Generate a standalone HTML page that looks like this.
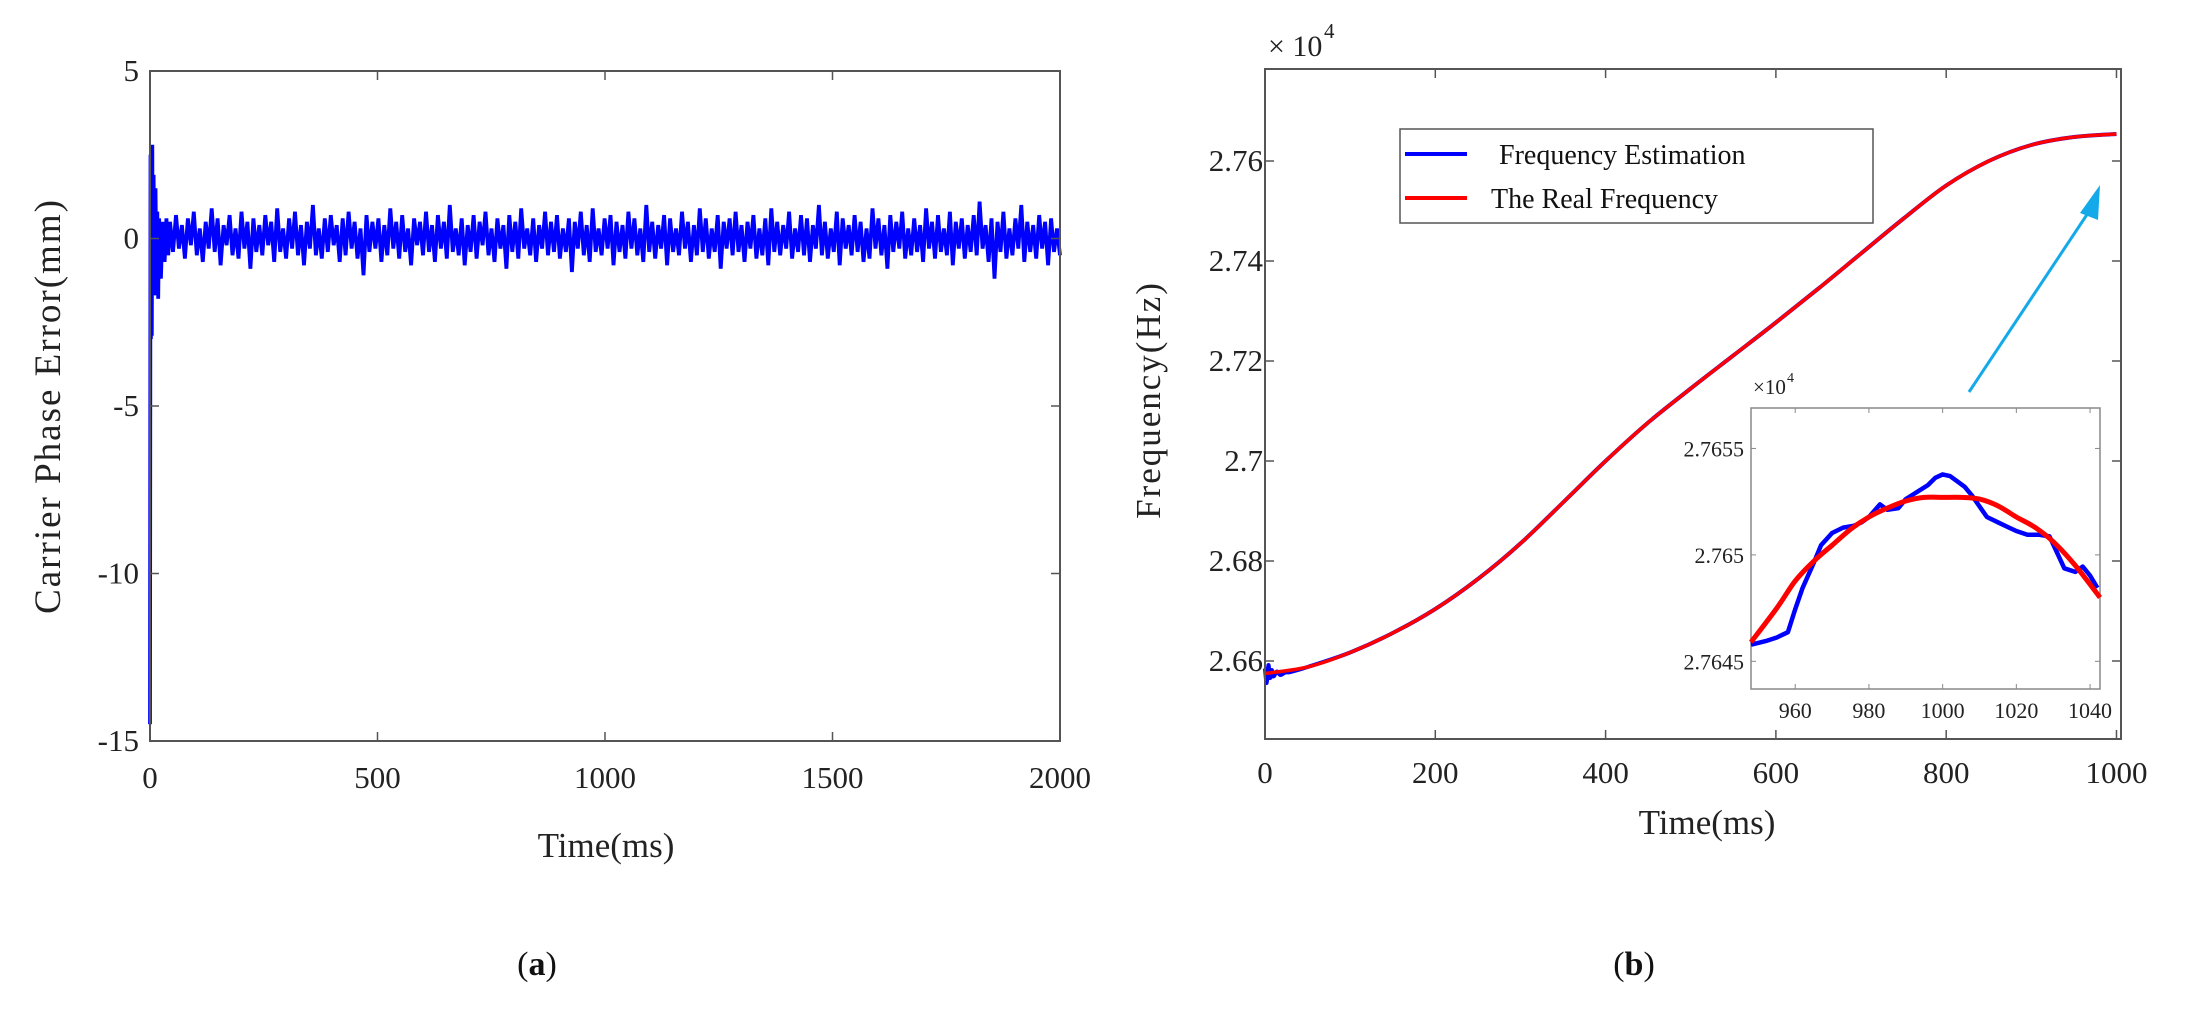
<!DOCTYPE html>
<html><head><meta charset="utf-8">
<style>
html,body{margin:0;padding:0;background:#fff;}
svg{display:block;font-family:"Liberation Serif",serif;}
</style></head>
<body>
<svg id="fig" width="2189" height="1034" viewBox="0 0 2189 1034" xmlns="http://www.w3.org/2000/svg"></svg>
<script>
// ---------- data: panel (a) ----------
const errTransientT = [0,1,2,3,4,5,6,8,10,12,14,16,18,20,24,28,32,36,40];
const errTransientV = [-14.5,2.5,-3.0,2.4,-2.9,2.8,-1.5,1.9,-1.7,1.5,-1.0,0.8,-1.8,0.6,-1.2,0.5,-0.7,0.6,-0.5];
const errNoiseStart = 44;
const errNoiseEnd = 2000;
const errNoiseV = [
0.5,-0.4,0.7,-0.3,0.4,-0.6,0.6,-0.2,0.8,-0.5,
0.3,-0.7,0.5,-0.3,0.9,-0.4,0.6,-0.8,0.4,-0.2,
0.7,-0.5,0.3,-0.6,0.8,-0.3,0.5,-0.9,0.6,-0.4,
0.4,-0.5,0.7,-0.2,0.5,-0.7,0.9,-0.4,0.3,-0.6,
0.6,-0.3,0.8,-0.5,0.4,-0.8,0.5,-0.3,1.0,-0.5,
0.3,-0.6,0.6,-0.4,0.7,-0.2,0.4,-0.7,0.6,-0.5,
0.8,-0.3,0.5,-0.6,0.3,-1.1,0.7,-0.4,0.5,-0.3,
0.6,-0.7,0.4,-0.5,0.9,-0.3,0.5,-0.6,0.7,-0.4,
0.3,-0.8,0.6,-0.2,0.5,-0.5,0.8,-0.4,0.4,-0.7,
0.7,-0.3,0.5,-0.6,1.0,-0.4,0.3,-0.5,0.6,-0.8,
0.4,-0.4,0.7,-0.6,0.5,-0.2,0.8,-0.5,0.3,-0.7,
0.6,-0.3,0.4,-0.9,0.7,-0.4,0.5,-0.6,0.9,-0.3,
0.3,-0.5,0.6,-0.7,0.4,-0.3,0.8,-0.5,0.5,-0.4,
0.7,-0.6,0.3,-0.4,0.6,-1.0,0.5,-0.3,0.8,-0.5,
0.4,-0.7,0.9,-0.4,0.3,-0.5,0.6,-0.3,0.7,-0.8,
0.5,-0.4,0.4,-0.6,0.8,-0.3,0.6,-0.5,0.3,-0.7,
1.0,-0.4,0.5,-0.6,0.4,-0.3,0.7,-0.8,0.6,-0.4,
0.3,-0.5,0.8,-0.3,0.5,-0.7,0.4,-0.5,0.9,-0.4,
0.6,-0.6,0.3,-0.4,0.7,-0.9,0.5,-0.3,0.6,-0.5,
0.8,-0.4,0.4,-0.7,0.5,-0.3,0.7,-0.6,0.3,-0.5,
0.6,-0.8,0.9,-0.4,0.5,-0.5,0.4,-0.3,0.8,-0.6,
0.3,-0.4,0.7,-0.5,0.6,-0.7,0.4,-0.3,1.0,-0.5,
0.5,-0.6,0.3,-0.4,0.8,-0.8,0.6,-0.3,0.4,-0.5,
0.7,-0.4,0.5,-0.7,0.3,-0.6,0.9,-0.3,0.6,-0.5,
0.4,-0.9,0.7,-0.4,0.5,-0.3,0.8,-0.6,0.3,-0.5,
0.6,-0.4,0.4,-0.7,0.9,-0.3,0.5,-0.6,0.7,-0.4,
0.3,-0.5,0.8,-0.8,0.5,-0.3,0.6,-0.6,0.4,-0.4,
0.7,-0.5,1.1,-0.3,0.4,-0.7,0.6,-1.2,0.5,-0.4,
0.8,-0.6,0.3,-0.5,0.6,-0.3,1.0,-0.7,0.5,-0.4,
0.4,-0.6,0.7,-0.3,0.5,-0.8,0.6,-0.4,0.3,-0.5
];
const errXTicks = [0,500,1000,1500,2000];
const errYTicks = [5,0,-5,-10,-15];

// ---------- data: panel (b) ----------
const realT = [0,50,100,150,200,250,300,350,400,450,500,550,600,650,700,750,800,850,900,950,1000];
const realF = [2.6575,2.6588,2.6617,2.6656,2.6704,2.6764,2.6835,2.6917,2.7000,2.7077,2.7145,2.7211,2.7277,2.7345,2.7415,2.7485,2.7551,2.7600,2.7632,2.7648,2.7654];
const estT = [0,2,4,6,8,10,14,18,24,30,50,100,150,200,250,300,350,400,450,500,550,600,650,700,750,800,850,900,950,1000];
const estF = [2.6585,2.6556,2.6592,2.6566,2.6582,2.6569,2.6579,2.6572,2.6577,2.6578,2.6588,2.6617,2.6656,2.6704,2.6764,2.6835,2.6917,2.7000,2.7077,2.7145,2.7211,2.7277,2.7345,2.7415,2.7485,2.7551,2.7600,2.7632,2.7648,2.7654];
const freqXTicks = [0,200,400,600,800,1000];
const freqYTicks = [2.66,2.68,2.70,2.72,2.74,2.76];
const freqYLabels = ["2.66","2.68","2.7","2.72","2.74","2.76"];

// inset
const inRealT = [948,955,960,965,970,975,980,985,990,995,1000,1005,1010,1015,1020,1025,1030,1036,1042.7];
const inRealF = [2.76459,2.76475,2.764878,2.76497,2.765045,2.76512,2.765178,2.76522,2.765253,2.76527,2.76527,2.76527,2.765262,2.76523,2.765178,2.76513,2.765062,2.76495,2.7648];
const inEstT = [948,952,955,958,960,962,965,967,970,973,976,978,980,983,985,988,990,993,996,998,1000,1002,1004,1006,1008,1010,1012,1015,1018,1020,1023,1026,1029,1031,1033,1036,1038,1040,1042];
const inEstF = [2.764578,2.764595,2.764612,2.764637,2.764745,2.764845,2.764962,2.765045,2.765103,2.765128,2.765137,2.765153,2.765178,2.765237,2.765212,2.76522,2.765262,2.765295,2.765328,2.765362,2.765378,2.76537,2.765345,2.76532,2.765278,2.765228,2.765178,2.765153,2.765128,2.765112,2.765095,2.765095,2.765087,2.765012,2.764937,2.76492,2.764945,2.764903,2.764845];
const inXTicks = [960,980,1000,1020,1040];
const inYTicks = [2.7645,2.765,2.7655];
const inYLabels = ["2.7645","2.765","2.7655"];

// ---------- helpers ----------
const NS = "http://www.w3.org/2000/svg";
const svg = document.getElementById('fig');
function el(tag, attrs, parent){
  const e = document.createElementNS(NS, tag);
  for (const k in attrs) e.setAttribute(k, attrs[k]);
  (parent||svg).appendChild(e);
  return e;
}
function txt(s, attrs, parent){ const t = el('text', attrs, parent); t.textContent = s; return t; }
function smoothPath(xs, ys){
  const P = xs.map((x,i)=>[x, ys[i]]);
  let d = 'M'+P[0][0].toFixed(1)+','+P[0][1].toFixed(1);
  for (let i=0;i<P.length-1;i++){
    const p0 = P[Math.max(0,i-1)], p1 = P[i], p2 = P[i+1], p3 = P[Math.min(P.length-1,i+2)];
    const c1 = [p1[0]+(p2[0]-p0[0])/6, p1[1]+(p2[1]-p0[1])/6];
    const c2 = [p2[0]-(p3[0]-p1[0])/6, p2[1]-(p3[1]-p1[1])/6];
    d += ' C'+c1[0].toFixed(1)+','+c1[1].toFixed(1)+' '+c2[0].toFixed(1)+','+c2[1].toFixed(1)+' '+p2[0].toFixed(1)+','+p2[1].toFixed(1);
  }
  return d;
}
const AX = '#555';

// ---------- panel (a) ----------
const A = {l:150, r:1060, t:71, b:741, x0:0, x1:2000, y0:-15, y1:5};
const ax = v => A.l + (v - A.x0)/(A.x1 - A.x0)*(A.r - A.l);
const ay = v => A.b - (v - A.y0)/(A.y1 - A.y0)*(A.b - A.t);
const gA = el('g', {});


let pts = [];
errTransientT.forEach((t,i)=>pts.push(ax(t).toFixed(1)+','+ay(errTransientV[i]).toFixed(1)));
const dt = (errNoiseEnd - errNoiseStart)/(errNoiseV.length - 1);
errNoiseV.forEach((v,i)=>pts.push(ax(errNoiseStart + i*dt).toFixed(1)+','+ay(v).toFixed(1)));
const lineA = el('polyline', {points: pts.join(' '), fill:'none', stroke:'#0000ff', 'stroke-width':3.8, 'stroke-linejoin':'miter'}, gA);


const boxA = el('rect', {x:A.l, y:A.t, width:A.r-A.l, height:A.b-A.t, fill:'none', stroke:AX, 'stroke-width':2}, gA);


errXTicks.forEach(v=>{
  const x = ax(v);
  el('line', {x1:x, y1:A.b, x2:x, y2:A.b-9, stroke:AX, 'stroke-width':1.5}, gA);
  el('line', {x1:x, y1:A.t, x2:x, y2:A.t+9, stroke:AX, 'stroke-width':1.5}, gA);
  const t = txt(String(v), {x:x, y:788, 'font-size':31, 'text-anchor':'middle', fill:'#222'}, gA);
  
  
});
errYTicks.forEach(v=>{
  const y = ay(v);
  el('line', {x1:A.l, y1:y, x2:A.l+9, y2:y, stroke:AX, 'stroke-width':1.5}, gA);
  el('line', {x1:A.r, y1:y, x2:A.r-9, y2:y, stroke:AX, 'stroke-width':1.5}, gA);
  const t = txt(String(v), {x:139, y:y+10, 'font-size':31, 'text-anchor':'end', fill:'#222'}, gA);
  
  
});
const xtA = txt('Time(ms)', {x:606, y:857, 'font-size':35, 'text-anchor':'middle', fill:'#222'}, gA);


const ytA = txt('Carrier Phase Error(mm)', {x:0, y:0, 'font-size':37, 'text-anchor':'middle', fill:'#222', transform:'translate(60,406) rotate(-90)', 'letter-spacing':2}, gA);



// ---------- panel (b) ----------
const B = {l:1265, r:2121, t:69, b:739, x0:0, x1:1005.3, y0:2.6444, y1:2.7784};
const bx = v => B.l + (v - B.x0)/(B.x1 - B.x0)*(B.r - B.l);
const by = v => B.b - (v - B.y0)/(B.y1 - B.y0)*(B.b - B.t);
const gB = el('g', {});


const estLine = el('path', {d: smoothPath(estT.map(bx), estF.map(by)), fill:'none', stroke:'#0000ff', 'stroke-width':4, 'stroke-linejoin':'round'}, gB);


const realLine = el('path', {d: smoothPath(realT.map(bx), realF.map(by)), fill:'none', stroke:'#ff0000', 'stroke-width':3.5}, gB);


const boxB = el('rect', {x:B.l, y:B.t, width:B.r-B.l, height:B.b-B.t, fill:'none', stroke:AX, 'stroke-width':2}, gB);


freqXTicks.forEach(v=>{
  const x = bx(v);
  el('line', {x1:x, y1:B.b, x2:x, y2:B.b-9, stroke:AX, 'stroke-width':1.5}, gB);
  el('line', {x1:x, y1:B.t, x2:x, y2:B.t+9, stroke:AX, 'stroke-width':1.5}, gB);
  const t = txt(String(v), {x:x, y:783, 'font-size':31, 'text-anchor':'middle', fill:'#222'}, gB);
  
  
});
freqYTicks.forEach((v,i)=>{
  const y = by(v);
  el('line', {x1:B.l, y1:y, x2:B.l+9, y2:y, stroke:AX, 'stroke-width':1.5}, gB);
  el('line', {x1:B.r, y1:y, x2:B.r-9, y2:y, stroke:AX, 'stroke-width':1.5}, gB);
  const t = txt(freqYLabels[i], {x:1263, y:y+10, 'font-size':31, 'text-anchor':'end', fill:'#222'}, gB);
  
  
});
const expB = txt('× 10', {x:1268, y:56, 'font-size':30, fill:'#222'}, gB);


txt('4', {x:1324, y:38, 'font-size':21, fill:'#222'}, gB);
const xtB = txt('Time(ms)', {x:1707, y:834, 'font-size':35, 'text-anchor':'middle', fill:'#222'}, gB);


const ytB = txt('Frequency(Hz)', {x:0, y:0, 'font-size':35, 'text-anchor':'middle', fill:'#222', transform:'translate(1160,400) rotate(-90)', 'letter-spacing':2}, gB);



// legend
const gL = el('g', {}, gB);


el('rect', {x:1400, y:129, width:473, height:94, fill:'#fff', stroke:AX, 'stroke-width':1.5}, gL);
const le1 = el('line', {x1:1405, y1:154, x2:1467, y2:154, stroke:'#0000ff', 'stroke-width':4}, gL);


txt('Frequency Estimation', {x:1499, y:164, 'font-size':28, fill:'#111'}, gL);
const le2 = el('line', {x1:1405, y1:198, x2:1467, y2:198, stroke:'#ff0000', 'stroke-width':4}, gL);


txt('The Real Frequency', {x:1491, y:208, 'font-size':28, fill:'#111'}, gL);

// arrow
const gArr = el('g', {}, gB);


el('line', {x1:1969, y1:392, x2:2090, y2:210, stroke:'#14a9e8', 'stroke-width':3}, gArr);
el('polygon', {points:'2100,185 2080,213 2098,220', fill:'#14a9e8'}, gArr);

// ---------- inset ----------
const I = {l:1751, r:2100, t:408, b:689, x0:948, x1:1042.7, y0:2.76437, y1:2.76569};
const ix = v => I.l + (v - I.x0)/(I.x1 - I.x0)*(I.r - I.l);
const iy = v => I.b - (v - I.y0)/(I.y1 - I.y0)*(I.b - I.t);
const gI = el('g', {});


el('rect', {x:I.l, y:I.t, width:I.r-I.l, height:I.b-I.t, fill:'#fff', stroke:'#888', 'stroke-width':1.5}, gI);
const inEst = el('polyline', {points: inEstT.map((t,i)=>ix(t).toFixed(1)+','+iy(inEstF[i]).toFixed(1)).join(' '), fill:'none', stroke:'#0000ff', 'stroke-width':4.5, 'stroke-linejoin':'round'}, gI);


const inReal = el('path', {d: smoothPath(inRealT.map(ix), inRealF.map(iy)), fill:'none', stroke:'#ff0000', 'stroke-width':5}, gI);


inXTicks.forEach(v=>{
  const x = ix(v);
  el('line', {x1:x, y1:I.b, x2:x, y2:I.b-5, stroke:'#888', 'stroke-width':1}, gI);
  el('line', {x1:x, y1:I.t, x2:x, y2:I.t+5, stroke:'#888', 'stroke-width':1}, gI);
  const t = txt(String(v), {x:x, y:718, 'font-size':22, 'text-anchor':'middle', fill:'#222'}, gI);
  
  
});
inYTicks.forEach((v,i)=>{
  const y = iy(v);
  el('line', {x1:I.l, y1:y, x2:I.l+5, y2:y, stroke:'#888', 'stroke-width':1}, gI);
  el('line', {x1:I.r, y1:y, x2:I.r-5, y2:y, stroke:'#888', 'stroke-width':1}, gI);
  const t = txt(inYLabels[i], {x:1744, y:y+8, 'font-size':22, 'text-anchor':'end', fill:'#222'}, gI);
  
  
});
txt('×10', {x:1753, y:394, 'font-size':21, fill:'#222'}, gI);
txt('4', {x:1787, y:382, 'font-size':14, fill:'#222'}, gI);

// captions
const capA = el('text', {x:537, y:975, 'font-size':34, 'text-anchor':'middle', fill:'#111'});
capA.innerHTML = '(<tspan font-weight="bold">a</tspan>)';


const capB = el('text', {x:1634, y:975, 'font-size':34, 'text-anchor':'middle', fill:'#111'});
capB.innerHTML = '(<tspan font-weight="bold">b</tspan>)';


</script>
</body></html>
